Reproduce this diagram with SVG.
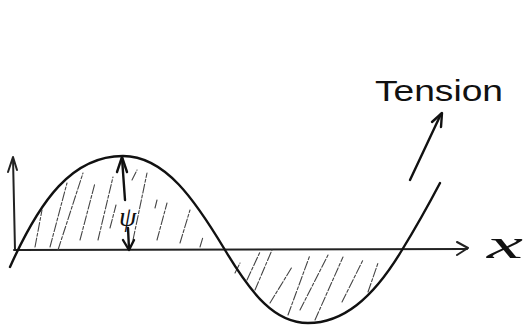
<svg xmlns="http://www.w3.org/2000/svg" width="529" height="326" viewBox="0 0 529 326">
<style>
.ink{fill:none;stroke:#111;stroke-width:2.4;stroke-linecap:round;stroke-linejoin:round}
.axis{fill:none;stroke:#222;stroke-width:2;stroke-linecap:round;stroke-linejoin:round}
.hatch{fill:none;stroke:#444;stroke-width:1.1;stroke-linecap:round;stroke-dasharray:9 2 3 2}
.lbl{font-family:"Liberation Sans",Arial,sans-serif;fill:#111}
</style>
<rect width="529" height="326" fill="#fff"/>
<g id="axes">
<path class="axis" d="M14,250 L467,249"/>
<path class="axis" d="M457,242 L468,248 L457,255"/>
<path class="axis" d="M15,250 L13,158"/>
<path class="axis" d="M8,172 L13,157 L17,170"/>
</g>
<g id="hatching">
<path class="hatch" d="M35,247 L42,210 M50,247 L67,183 M58,250 L83,173 M80,240 L95,183 M98,240 L113,177 M110,228 L116,205 M132,180 L137,170 M133,240 L147,173 M155,208 L157,200 M157,240 L167,203 M180,243 L190,210 M200,247 L203,237"/>
<path class="hatch" d="M235,273 L240,263 M247,280 L260,252 M255,290 L272,250 M270,303 L292,267 M288,315 L310,255 M300,310 L328,255 M315,320 L343,257 M342,302 L363,260 M368,292 L378,263"/>
</g>
<g id="wave">
<path class="ink" d="M10,267 C40,200 72,156 123,156 C165,156 195,200 225,250 C252,295 275,323 308,323 C342,323 372,300 402,250 C418,224 430,202 440,183"/>
</g>
<g id="psi">
<path class="ink" d="M122,158 L125,200"/>
<path class="ink" d="M117,172 L122,157 L127,172"/>
<path class="ink" d="M128,228 L129,249"/>
<path class="ink" d="M123,240 L129,250 L134,240"/>
<text x="119" y="226" font-size="28" font-family="'Liberation Serif',serif" font-style="italic" fill="#111">ψ</text>
</g>
<g id="tension">
<path class="ink" d="M410,180 L441,114"/>
<path class="ink" d="M432,122 L442,113 L441,127"/>
<text class="lbl" x="375" y="101" font-size="30" textLength="128" lengthAdjust="spacingAndGlyphs">Tension</text>
</g>
<g id="xlabel">
<text x="487" y="258" font-size="40" font-family="'Liberation Serif',serif" font-style="italic" fill="#111" textLength="36" lengthAdjust="spacingAndGlyphs">x</text>
</g>
</svg>
